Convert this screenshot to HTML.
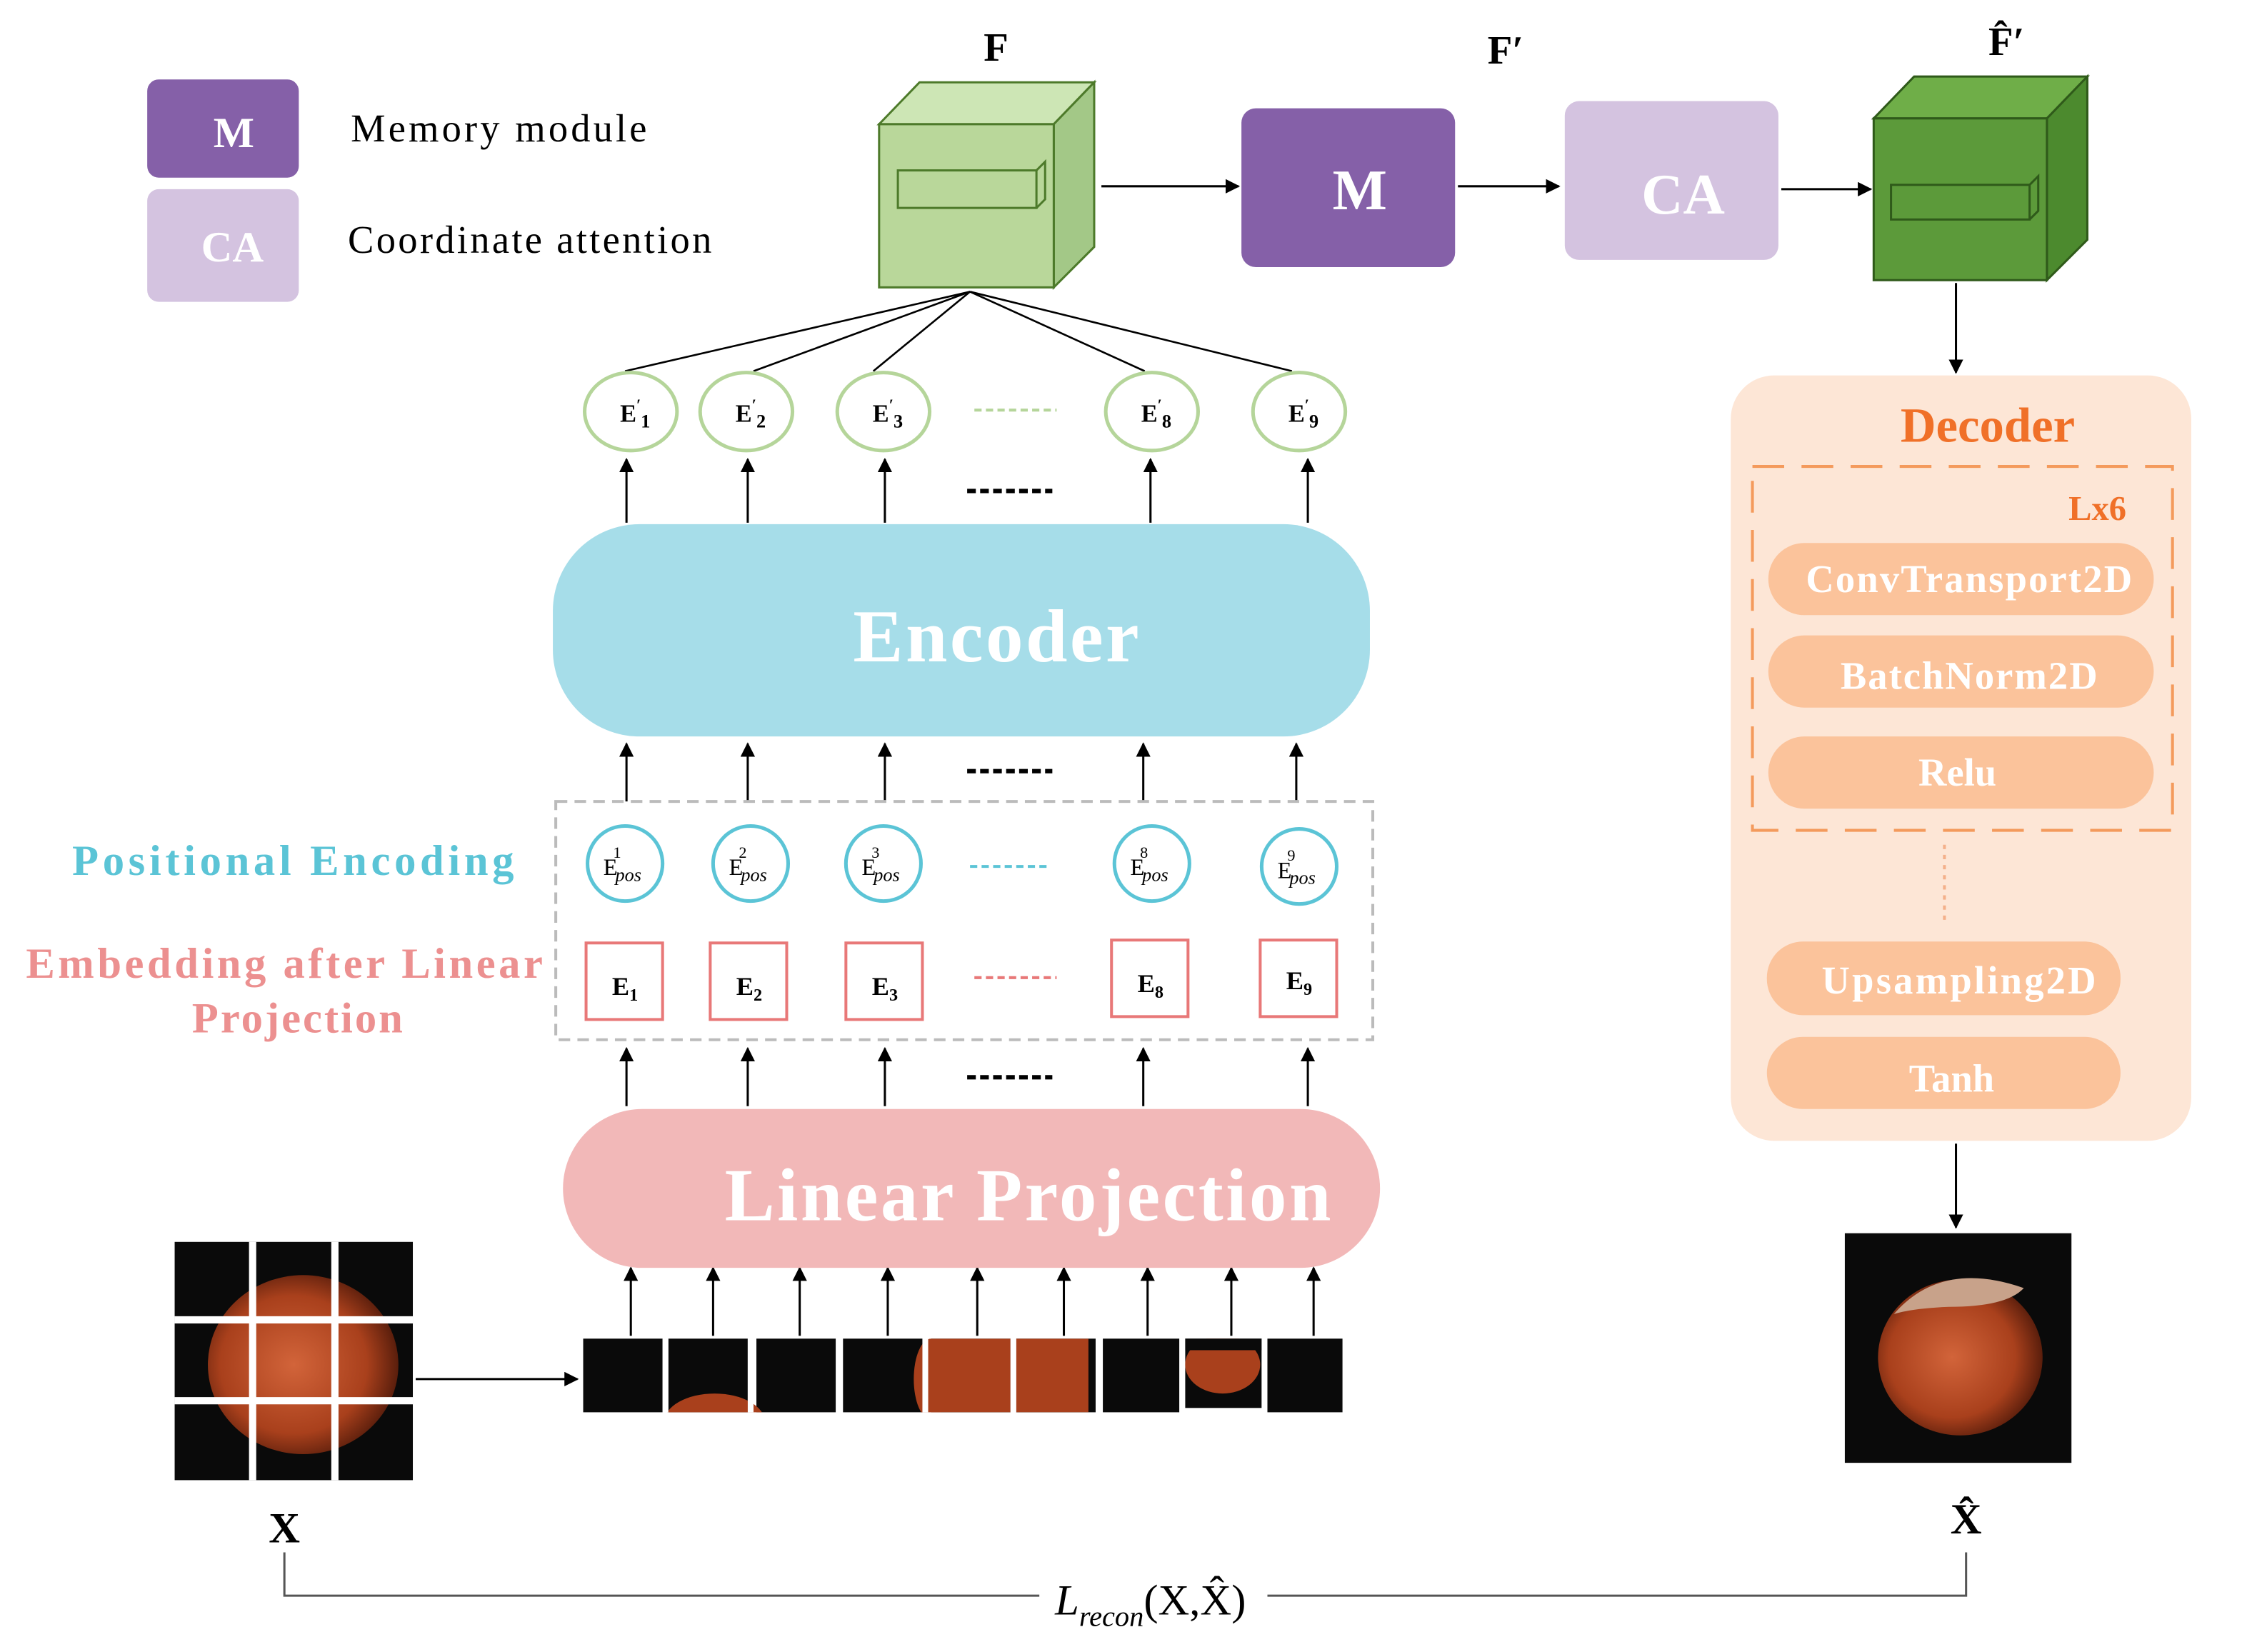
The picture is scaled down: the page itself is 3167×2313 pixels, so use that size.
<!DOCTYPE html>
<html><head><meta charset="utf-8"><style>html,body{margin:0;padding:0;background:#fff}svg{display:block}</style></head><body>
<svg width="3167" height="2313" viewBox="0 0 1567 1144" preserveAspectRatio="none" xmlns="http://www.w3.org/2000/svg" font-family="Liberation Serif, serif">
<defs>
<marker id="ar" markerWidth="10" markerHeight="10" refX="9" refY="5" orient="auto" markerUnits="userSpaceOnUse"><path d="M0,0 L10,5 L0,10 z" fill="#000"/></marker>
<radialGradient id="nut" cx="45%" cy="50%" r="55%"><stop offset="0" stop-color="#d2643a"/><stop offset="0.7" stop-color="#a9401c"/><stop offset="1" stop-color="#5a1e0c"/></radialGradient>
<clipPath id="gc"><rect x="121" y="860" width="165" height="165"/></clipPath>
<clipPath id="pc"><rect x="404" y="927" width="526" height="51"/></clipPath>
</defs>
<rect x="102" y="55" width="105" height="68" rx="8" fill="#8560a8"/>
<text x="162" y="102" font-size="30" fill="#fff" text-anchor="middle" font-weight="bold">M</text>
<rect x="102" y="131" width="105" height="78" rx="8" fill="#d4c3e0"/>
<text x="161" y="181" font-size="30" fill="#fff" text-anchor="middle" font-weight="bold">CA</text>
<text x="243" y="98" font-size="27" textLength="205">Memory module</text>
<text x="241" y="175" font-size="27" textLength="252">Coordinate attention</text>
<text x="690" y="42" font-size="28" font-weight="bold" text-anchor="middle">F</text>
<polygon points="609,86 637,57 758,57 730,86" fill="#cde6b5" stroke="#4d7a2a" stroke-width="1.5"/>
<polygon points="730,86 758,57 758,171 730,199" fill="#a3c887" stroke="#4d7a2a" stroke-width="1.5"/>
<rect x="609" y="86" width="121" height="113" fill="#b9d79a" stroke="#4d7a2a" stroke-width="1.5"/>
<rect x="622" y="118" width="96" height="26" fill="none" stroke="#4d7a2a" stroke-width="1.5"/>
<polyline points="718,118 724,112 724,138 718,144" fill="none" stroke="#4d7a2a" stroke-width="1.5"/>
<text x="1043" y="44" font-size="28" font-weight="bold" text-anchor="middle">F′</text>
<rect x="860" y="75" width="148" height="110" rx="10" fill="#8560a8"/>
<text x="942" y="145" font-size="40" fill="#fff" text-anchor="middle" font-weight="bold">M</text>
<rect x="1084" y="70" width="148" height="110" rx="10" fill="#d4c3e0"/>
<text x="1166" y="148" font-size="40" fill="#fff" text-anchor="middle" font-weight="bold">CA</text>
<text x="1390" y="38" font-size="28" font-weight="bold" text-anchor="middle">F̂′</text>
<polygon points="1298,82 1326,53 1446,53 1418,82" fill="#6fae48" stroke="#2f5a1a" stroke-width="1.5"/>
<polygon points="1418,82 1446,53 1446,166 1418,194" fill="#4c8a2e" stroke="#2f5a1a" stroke-width="1.5"/>
<rect x="1298" y="82" width="120" height="112" fill="#5c9a3a" stroke="#2f5a1a" stroke-width="1.5"/>
<rect x="1310" y="128" width="96" height="24" fill="none" stroke="#2f5a1a" stroke-width="1.5"/>
<polyline points="1406,128 1412,122 1412,146 1406,152" fill="none" stroke="#2f5a1a" stroke-width="1.5"/>
<g stroke="#000" stroke-width="1.5" marker-end="url(#ar)">
<line x1="763" y1="129" x2="858" y2="129"/>
<line x1="1010" y1="129" x2="1080" y2="129"/>
<line x1="1234" y1="131" x2="1296" y2="131"/>
<line x1="1355" y1="196" x2="1355" y2="258"/>
<line x1="1355" y1="792" x2="1355" y2="850"/>
<line x1="288" y1="955" x2="400" y2="955"/>
</g>
<rect x="1199" y="260" width="319" height="530" rx="30" fill="#fde6d6"/>
<text x="1377" y="306" font-size="34" font-weight="bold" fill="#f07028" text-anchor="middle">Decoder</text>
<rect x="1214" y="323" width="291" height="252" fill="none" stroke="#f49a5c" stroke-width="2" stroke-dasharray="22,12"/>
<text x="1453" y="360" font-size="24" font-weight="bold" fill="#f07028" text-anchor="middle">Lx6</text>
<g fill="#fbc39b"><rect x="1225" y="376" width="267" height="50" rx="25"/><rect x="1225" y="440" width="267" height="50" rx="25"/><rect x="1225" y="510" width="267" height="50" rx="25"/><rect x="1224" y="652" width="245" height="51" rx="25"/><rect x="1224" y="718" width="245" height="50" rx="25"/></g>
<g fill="#fff" font-size="27" text-anchor="middle" font-weight="bold"><text x="1364" y="410" textLength="226">ConvTransport2D</text><text x="1364" y="477" textLength="178">BatchNorm2D</text><text x="1356" y="544">Relu</text><text x="1357" y="688" textLength="190">Upsampling2D</text><text x="1352" y="756">Tanh</text></g>
<line x1="1347" y1="585" x2="1347" y2="640" stroke="#f4b08a" stroke-width="2" stroke-dasharray="3,4"/>
<rect x="1278" y="854" width="157" height="159" fill="#0a0a0a"/>
<ellipse cx="1358" cy="940" rx="57" ry="54" fill="url(#nut)"/>
<path d="M1312,910 Q1345,872 1402,892 Q1390,905 1350,905 Q1325,906 1312,910 Z" fill="#c8a28a"/>
<text x="1362" y="1062" font-size="30" font-weight="bold" text-anchor="middle">X̂</text>
<rect x="121" y="860" width="165" height="165" fill="#0a0a0a"/>
<ellipse cx="210" cy="945" rx="66" ry="62" fill="url(#nut)" clip-path="url(#gc)"/>
<g stroke="#fff" stroke-width="5"><line x1="175" y1="860" x2="175" y2="1025"/><line x1="232" y1="860" x2="232" y2="1025"/><line x1="121" y1="914" x2="286" y2="914"/><line x1="121" y1="970" x2="286" y2="970"/></g>
<text x="197" y="1068" font-size="30" font-weight="bold" text-anchor="middle">X</text>
<polyline points="197,1075 197,1105 720,1105" fill="none" stroke="#555" stroke-width="1.5"/>
<polyline points="878,1105 1362,1105 1362,1075" fill="none" stroke="#555" stroke-width="1.5"/>
<text x="797" y="1118" font-size="30" text-anchor="middle"><tspan font-style="italic">L</tspan><tspan font-size="20" font-style="italic" dy="8">recon</tspan><tspan dy="-8">(X,X̂)</tspan></text>
<g fill="#0a0a0a"><rect x="404" y="927" width="55" height="51"/><rect x="463" y="927" width="55" height="51"/><rect x="524" y="927" width="55" height="51"/><rect x="584" y="927" width="55" height="51"/><rect x="645" y="927" width="55" height="51"/><rect x="704" y="927" width="55" height="51"/><rect x="764" y="927" width="53" height="51"/><rect x="821" y="927" width="53" height="48"/><rect x="878" y="927" width="52" height="51"/></g>
<g fill="#a9401c" clip-path="url(#pc)"><rect x="645" y="927" width="55" height="51"/><rect x="704" y="927" width="50" height="51"/><ellipse cx="495" cy="985" rx="35" ry="20"/><ellipse cx="645" cy="955" rx="12" ry="28"/><ellipse cx="847" cy="945" rx="26" ry="20"/></g>
<rect x="821" y="927" width="53" height="8" fill="#0a0a0a"/>
<g stroke="#fff" stroke-width="4"><line x1="461" y1="927" x2="461" y2="978"/><line x1="520" y1="927" x2="520" y2="978"/><line x1="581" y1="927" x2="581" y2="978"/><line x1="641" y1="927" x2="641" y2="978"/><line x1="702" y1="927" x2="702" y2="978"/><line x1="761" y1="927" x2="761" y2="978"/><line x1="819" y1="927" x2="819" y2="978"/><line x1="876" y1="927" x2="876" y2="978"/></g>
<g stroke="#000" stroke-width="1.5" marker-end="url(#ar)">
<line x1="437" y1="925" x2="437" y2="878"/><line x1="494" y1="925" x2="494" y2="878"/><line x1="554" y1="925" x2="554" y2="878"/><line x1="615" y1="925" x2="615" y2="878"/><line x1="677" y1="925" x2="677" y2="878"/><line x1="737" y1="925" x2="737" y2="878"/><line x1="795" y1="925" x2="795" y2="878"/><line x1="853" y1="925" x2="853" y2="878"/><line x1="910" y1="925" x2="910" y2="878"/>
</g>
<rect x="390" y="768" width="566" height="110" rx="55" fill="#f2b8b8"/>
<text x="712" y="845" font-size="52" font-weight="bold" fill="#fff" text-anchor="middle" textLength="420">Linear Projection</text>
<g stroke="#000" stroke-width="1.5" marker-end="url(#ar)">
<line x1="434" y1="766" x2="434" y2="726"/><line x1="518" y1="766" x2="518" y2="726"/><line x1="613" y1="766" x2="613" y2="726"/><line x1="792" y1="766" x2="792" y2="726"/><line x1="906" y1="766" x2="906" y2="726"/>
<line x1="434" y1="555" x2="434" y2="515"/><line x1="518" y1="555" x2="518" y2="515"/><line x1="613" y1="555" x2="613" y2="515"/><line x1="792" y1="555" x2="792" y2="515"/><line x1="898" y1="555" x2="898" y2="515"/>
<line x1="434" y1="362" x2="434" y2="318"/><line x1="518" y1="362" x2="518" y2="318"/><line x1="613" y1="362" x2="613" y2="318"/><line x1="797" y1="362" x2="797" y2="318"/><line x1="906" y1="362" x2="906" y2="318"/>
</g>
<g stroke="#000" stroke-width="3" stroke-dasharray="6,3"><line x1="670" y1="746" x2="729" y2="746"/><line x1="670" y1="534" x2="729" y2="534"/><line x1="670" y1="340" x2="729" y2="340"/></g>
<rect x="385" y="555" width="566" height="165" fill="none" stroke="#bbb" stroke-width="2" stroke-dasharray="8,5"/>
<g fill="#fff" stroke="#e87878" stroke-width="2"><rect x="406" y="653" width="53" height="53"/><rect x="492" y="653" width="53" height="53"/><rect x="586" y="653" width="53" height="53"/><rect x="770" y="651" width="53" height="53"/><rect x="873" y="651" width="53" height="53"/></g>
<g font-size="18" text-anchor="middle" font-weight="bold"><text x="433" y="689">E<tspan font-size="12" dy="4">1</tspan></text><text x="519" y="689">E<tspan font-size="12" dy="4">2</tspan></text><text x="613" y="689">E<tspan font-size="12" dy="4">3</tspan></text><text x="797" y="687">E<tspan font-size="12" dy="4">8</tspan></text><text x="900" y="685">E<tspan font-size="12" dy="4">9</tspan></text></g>
<line x1="675" y1="677" x2="732" y2="677" stroke="#e87878" stroke-width="2" stroke-dasharray="5,3"/>
<g fill="#fff" stroke="#5bc4d6" stroke-width="2.5"><circle cx="433" cy="598" r="26"/><circle cx="520" cy="598" r="26"/><circle cx="612" cy="598" r="26"/><circle cx="798" cy="598" r="26"/><circle cx="900" cy="600" r="26"/></g>
<g font-size="16"><text x="418" y="606">E<tspan font-size="11" dy="-12" dx="-3">1</tspan><tspan font-size="13" font-style="italic" dy="16" dx="-4">pos</tspan></text><text x="505" y="606">E<tspan font-size="11" dy="-12" dx="-3">2</tspan><tspan font-size="13" font-style="italic" dy="16" dx="-4">pos</tspan></text><text x="597" y="606">E<tspan font-size="11" dy="-12" dx="-3">3</tspan><tspan font-size="13" font-style="italic" dy="16" dx="-4">pos</tspan></text><text x="783" y="606">E<tspan font-size="11" dy="-12" dx="-3">8</tspan><tspan font-size="13" font-style="italic" dy="16" dx="-4">pos</tspan></text><text x="885" y="608">E<tspan font-size="11" dy="-12" dx="-3">9</tspan><tspan font-size="13" font-style="italic" dy="16" dx="-4">pos</tspan></text></g>
<line x1="672" y1="600" x2="728" y2="600" stroke="#5bc4d6" stroke-width="2" stroke-dasharray="5,3"/>
<text x="50" y="606" font-size="30" fill="#5bc4d6" font-weight="bold" textLength="306">Positional  Encoding</text>
<text x="18" y="677" font-size="30" fill="#ec9090" font-weight="bold" textLength="358">Embedding  after  Linear</text>
<text x="206" y="715" font-size="30" fill="#ec9090" text-anchor="middle" font-weight="bold" textLength="146">Projection</text>
<rect x="383" y="363" width="566" height="147" rx="60" fill="#a6dde9"/>
<text x="690" y="458" font-size="52" font-weight="bold" fill="#fff" text-anchor="middle" textLength="198">Encoder</text>
<g stroke="#000" stroke-width="1.3"><line x1="672" y1="202" x2="433" y2="257"/><line x1="672" y1="202" x2="522" y2="257"/><line x1="672" y1="202" x2="605" y2="257"/><line x1="672" y1="202" x2="793" y2="257"/><line x1="672" y1="202" x2="895" y2="257"/></g>
<g fill="#fff" stroke="#b5d59a" stroke-width="2.5"><ellipse cx="437" cy="285" rx="32" ry="27"/><ellipse cx="517" cy="285" rx="32" ry="27"/><ellipse cx="612" cy="285" rx="32" ry="27"/><ellipse cx="798" cy="285" rx="32" ry="27"/><ellipse cx="900" cy="285" rx="32" ry="27"/></g>
<g font-size="17" text-anchor="middle" font-weight="bold"><text x="440" y="292">E<tspan font-size="11" dy="-8">′</tspan><tspan font-size="13" dy="12">1</tspan></text><text x="520" y="292">E<tspan font-size="11" dy="-8">′</tspan><tspan font-size="13" dy="12">2</tspan></text><text x="615" y="292">E<tspan font-size="11" dy="-8">′</tspan><tspan font-size="13" dy="12">3</tspan></text><text x="801" y="292">E<tspan font-size="11" dy="-8">′</tspan><tspan font-size="13" dy="12">8</tspan></text><text x="903" y="292">E<tspan font-size="11" dy="-8">′</tspan><tspan font-size="13" dy="12">9</tspan></text></g>
<line x1="675" y1="284" x2="732" y2="284" stroke="#b5d59a" stroke-width="2" stroke-dasharray="5,3"/>
</svg>
</body></html>
